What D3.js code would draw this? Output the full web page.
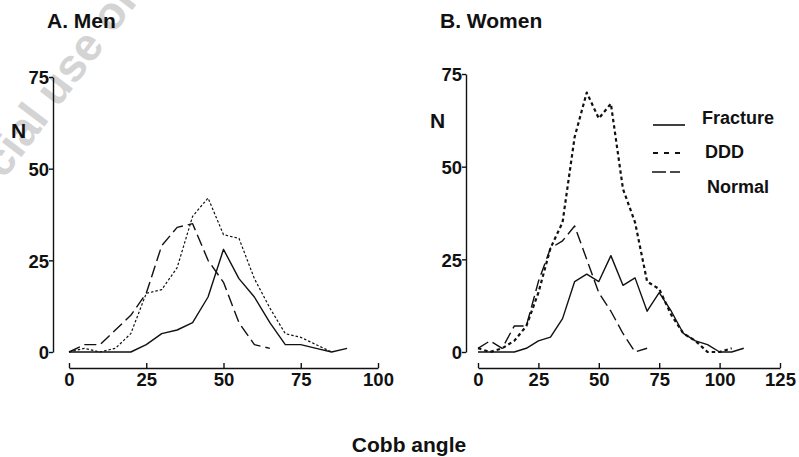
<!DOCTYPE html>
<html><head><meta charset="utf-8">
<script src="https://cdn.jsdelivr.net/npm/d3@7"></script>
<style>
html,body{margin:0;padding:0;background:#fff;}
svg{display:block;font-family:"Liberation Sans",Arial,Helvetica,sans-serif;}
</style></head>
<body>
<svg id="chart" width="799" height="457"></svg>
<script>
// ---- Data ----
const yTicks = [0, 25, 50, 75];
const xTicksMen = [0, 25, 50, 75, 100];
const xTicksWomen = [0, 25, 50, 75, 100, 125];

const menFractureAngles = [0,5,10,15,20,25,30,35,40,45,50,55,60,65,70,75,80,85,90];
const menFracture       = [0,0,0,0,0,2,5,6,8,15,28,20,15,8,2,2,1,0,1];
const menDDDAngles      = [0,5,10,15,20,25,30,35,40,45,50,55,60,65,70,75,80,85];
const menDDD            = [0,1,0,1,5,16,17,23,37,42,32,31,20,12,5,4,2,0];
const menNormalAngles   = [0,5,10,15,20,25,30,35,40,45,50,55,60,65];
const menNormal         = [0,2,2,6,10,16,29,34,35,25,19,8,2,1];

const womenFractureAngles = [0,5,10,15,20,25,30,35,40,45,50,55,60,65,70,75,80,85,90,95,100,105,110];
const womenFracture       = [0,0,0,0,1,3,4,9,19,21,19,26,18,20,11,16,11,5,3,2,0,0,1];
const womenDDDAngles      = [0,5,10,15,20,25,30,35,40,45,50,55,60,65,70,75,80,85,90,95,100,105];
const womenDDD            = [1,0,1,3,7,16,28,35,58,70,63,67,44,35,19,17,10,5,3,0,0,1];
const womenNormalAngles   = [0,5,10,15,20,25,30,35,40,45,50,55,60,65,70];
const womenNormal         = [1,3,1,7,7,19,28,30,34,25,16,11,5,0,1];

const seriesNames = ["Fracture", "DDD", "Normal"];

// ---- Drawing ----
const svg = d3.select("#chart");

// watermark
const wm = svg.append("g").attr("transform", "translate(4,180) rotate(-53)")
  .attr("fill", "#d4d4d4").attr("font-weight", "bold").attr("font-size", 46);
wm.append("text").attr("text-anchor", "end").text("commer");
wm.append("text").attr("text-anchor", "start").text("cial use only");

const styles = {
  Fracture: {dash: null, w: 1.4},
  DDD: {dash: "3,2.5", w: 1.4},
  Normal: {dash: "12,5", w: 1.4}
};

function panel(cfg) {
  const g = svg.append("g");
  const x = d3.scaleLinear().domain(cfg.xDomain).range(cfg.xRange);
  const y = d3.scaleLinear().domain([0, 75]).range(cfg.yRange);

  const xAxis = d3.axisBottom(x).tickValues(cfg.xTicks).tickSizeInner(-5).tickSizeOuter(0).tickPadding(7);
  const xa = g.append("g").attr("transform", `translate(0,${cfg.xAxisY})`).call(xAxis);
  const yAxis = d3.axisLeft(y).tickValues(yTicks).tickSizeInner(4).tickSizeOuter(0).tickPadding(0);
  const ya = g.append("g").attr("transform", `translate(${cfg.yAxisX},0)`).call(yAxis);
  [xa, ya].forEach(a => {
    a.selectAll("path,line").attr("stroke", "#111").attr("stroke-width", 1.4);
    a.selectAll("text").attr("font-size", 18.5).attr("font-weight", "bold").attr("fill", "#111")
      .attr("font-family", '"Liberation Sans",Arial,sans-serif');
  });
  xa.selectAll("text").attr("dy", "0.62em");
  ya.selectAll("text").attr("dy", "0.36em");

  const line = d3.line().x(d => x(d[0])).y(d => y(d[1]));
  cfg.series.forEach(s => {
    const st = styles[s.name];
    g.append("path")
      .datum(d3.zip(s.x, s.y))
      .attr("fill", "none").attr("stroke", "#111")
      .attr("stroke-width", s.w || st.w)
      .attr("stroke-dasharray", s.dash || st.dash)
      .attr("stroke-linejoin", "round")
      .attr("d", line);
  });

  g.append("text").attr("x", cfg.titleX).attr("y", 28).text(cfg.title)
    .attr("font-size", 21).attr("font-weight", "bold").attr("fill", "#111");
  g.append("text").attr("x", cfg.nX).attr("y", cfg.nY).text("N")
    .attr("font-size", 21).attr("font-weight", "bold").attr("fill", "#111");
}

panel({
  title: "A. Men", titleX: 47, nX: 11, nY: 138,
  xDomain: [0, 100], xRange: [69, 378], yRange: [352, 77],
  xTicks: xTicksMen, xAxisY: 368, yAxisX: 53,
  series: [
    {name: "Normal", x: menNormalAngles, y: menNormal},
    {name: "DDD", x: menDDDAngles, y: menDDD, dash: "2.5,2", w: 1.2},
    {name: "Fracture", x: menFractureAngles, y: menFracture}
  ]
});

panel({
  title: "B. Women", titleX: 440, nX: 430, nY: 128,
  xDomain: [0, 125], xRange: [478, 780], yRange: [352, 74],
  xTicks: xTicksWomen, xAxisY: 368, yAxisX: 466,
  series: [
    {name: "Normal", x: womenNormalAngles, y: womenNormal},
    {name: "DDD", x: womenDDDAngles, y: womenDDD, dash: "3.5,3", w: 2.2},
    {name: "Fracture", x: womenFractureAngles, y: womenFracture}
  ]
});

// legend
const legend = svg.append("g");
const legendItems = [
  {name: seriesNames[0], lx1: 653, lx2: 685, ly: 125, tx: 702, ty: 124, dash: null, w: 1.6},
  {name: seriesNames[1], lx1: 653, lx2: 684, ly: 153, tx: 705, ty: 158, dash: "5,6", w: 2.2},
  {name: seriesNames[2], lx1: 652, lx2: 680, ly: 172, tx: 707, ty: 193, dash: "14,4", w: 1.4}
];
legendItems.forEach(d => {
  legend.append("line").attr("x1", d.lx1).attr("x2", d.lx2).attr("y1", d.ly).attr("y2", d.ly)
    .attr("stroke", "#111").attr("stroke-width", d.w).attr("stroke-dasharray", d.dash);
  legend.append("text").attr("x", d.tx).attr("y", d.ty).text(d.name)
    .attr("font-size", 18).attr("font-weight", "bold").attr("fill", "#111");
});

svg.append("text").attr("x", 409).attr("y", 452).attr("text-anchor", "middle")
  .text("Cobb angle").attr("font-size", 21).attr("font-weight", "bold").attr("fill", "#111");
</script>
</body></html>
